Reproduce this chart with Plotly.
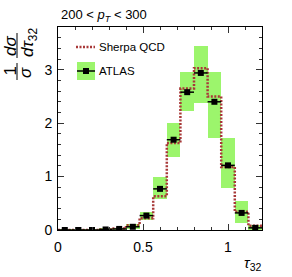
import plotly.graph_objects as go

# ---- data ----
bin_edges = [0.0, 0.08, 0.16, 0.24, 0.32, 0.40, 0.48, 0.56, 0.64, 0.72, 0.80, 0.88, 0.96, 1.04, 1.12, 1.20]
bin_centers = [0.04, 0.12, 0.20, 0.28, 0.36, 0.44, 0.52, 0.60, 0.68, 0.76, 0.84, 0.92, 1.00, 1.08, 1.16]
atlas_values = [0.0, 0.0, 0.0, 0.01, 0.02, 0.06, 0.27, 0.77, 1.69, 2.58, 2.94, 2.40, 1.21, 0.32, 0.04]
band_low = [0.0, 0.0, 0.0, 0.0, 0.01, 0.02, 0.19, 0.58, 1.375, 2.22, 2.38, 1.73, 0.79, 0.13, 0.0]
band_high = [0.01, 0.01, 0.01, 0.02, 0.04, 0.11, 0.34, 0.99, 2.01, 2.95, 3.45, 2.96, 1.72, 0.54, 0.09]
sherpa_values = [0.0, 0.0, 0.0, 0.01, 0.03, 0.09, 0.22, 0.63, 1.63, 2.65, 3.03, 2.50, 1.18, 0.34, 0.08]
half_width = [0.04] * len(bin_centers)

GREEN = "#9cf56c"
RED = "#a83838"
FONT = "Liberation Sans, Arial, sans-serif"

# plot area pixel geometry
L, R, T, B = 58, 262, 27, 230
def px(x):
    return (x - L) / (R - L)
def py(y):
    return (B - y) / (B - T)

fig = go.Figure()

fig.add_trace(go.Bar(
    x=bin_centers, y=[h - l for h, l in zip(band_high, band_low)], base=band_low,
    width=0.08, marker=dict(color=GREEN, line=dict(width=0)), showlegend=False,
))

fig.add_trace(go.Scatter(
    x=bin_edges, y=sherpa_values + [sherpa_values[-1]], mode="lines", line_shape="hv",
    line=dict(color=RED, width=2.5, dash="2px,1.5px"), showlegend=False,
))

fig.add_trace(go.Scatter(
    x=bin_centers, y=atlas_values, mode="markers",
    marker=dict(symbol="square", size=6, color="black"),
    error_x=dict(type="data", array=half_width, color="black", thickness=1.5, width=0),
    showlegend=False,
))

axis_common = dict(
    showline=True, linecolor="black", linewidth=1, mirror="ticks",
    ticks="inside", ticklen=6, tickcolor="#333", tickwidth=1,
    showgrid=False, zeroline=False,
    tickfont=dict(family=FONT, size=14, color="black"),
)

fig.update_layout(
    width=292, height=277, autosize=False,
    margin=dict(l=L, r=292 - R, t=T, b=277 - B),
    plot_bgcolor="white", paper_bgcolor="white",
    bargap=0,
    xaxis=dict(range=[0, 1.2], tickvals=[0, 0.5, 1], ticktext=["0", "0.5", "1"],
               minor=dict(dtick=0.1, tick0=0, ticklen=3, ticks="inside", tickcolor="#333"),
               ticklabelstandoff=4, **axis_common),
    yaxis=dict(range=[0, 3.8], tickvals=[0, 1, 2, 3],
               minor=dict(dtick=0.2, tick0=0, ticklen=3, ticks="inside", tickcolor="#333"),
               ticklabelstandoff=2, **axis_common),
)

ann = []
# title
ann.append(dict(x=px(104), y=py(15), xref="paper", yref="paper", showarrow=False,
                text="200 < <i>p</i><sub><i>T</i></sub> < 300", font=dict(family=FONT, size=13, color="black"),
                xanchor="center", yanchor="middle"))
# x axis title
ann.append(dict(x=px(252), y=py(263), xref="paper", yref="paper", showarrow=False,
                text="<i>τ</i><sub>32</sub>", font=dict(family=FONT, size=15, color="black"),
                xanchor="center", yanchor="middle"))
# y axis title as two rotated fractions
for txt, cx, cy in [("1", 10, 71.5), ("<i>σ</i>", 26, 73), ("<i>dσ</i>", 10, 46), ("<i>dτ</i><sub>32</sub>", 29, 43)]:
    ann.append(dict(x=px(cx), y=py(cy), xref="paper", yref="paper", showarrow=False, textangle=-90,
                    text=txt, font=dict(family=FONT, size=17, color="black"),
                    xanchor="center", yanchor="middle"))
# legend texts
ann.append(dict(x=px(97), y=py(47), xref="paper", yref="paper", showarrow=False, text="Sherpa QCD",
                font=dict(family=FONT, size=11.5, color="black"), xanchor="left", yanchor="middle"))
ann.append(dict(x=px(97), y=py(71), xref="paper", yref="paper", showarrow=False, text="ATLAS",
                font=dict(family=FONT, size=11.5, color="black"), xanchor="left", yanchor="middle"))

shapes = [
    # fraction bars
    dict(type="line", xref="paper", yref="paper", x0=px(17), x1=px(17), y0=py(63), y1=py(80),
         line=dict(color="black", width=1)),
    dict(type="line", xref="paper", yref="paper", x0=px(17), x1=px(17), y0=py(33), y1=py(58),
         line=dict(color="black", width=1)),
    # legend: sherpa
    dict(type="line", xref="paper", yref="paper", x0=px(76), x1=px(95), y0=py(47), y1=py(47),
         line=dict(color=RED, width=2.5, dash="2px,1.5px")),
    # legend: ATLAS
    dict(type="rect", xref="paper", yref="paper", x0=px(77), x1=px(95), y0=py(80), y1=py(62),
         fillcolor=GREEN, line=dict(width=0)),
    dict(type="line", xref="paper", yref="paper", x0=px(77), x1=px(95), y0=py(71), y1=py(71),
         line=dict(color="black", width=1.5)),
    dict(type="rect", xref="paper", yref="paper", x0=px(83), x1=px(89), y0=py(74), y1=py(68),
         fillcolor="black", line=dict(width=0)),
]

fig.update_layout(annotations=ann, shapes=shapes)
fig.write_html("out.html", config={"displayModeBar": False},
               post_script="document.body.style.margin='0';document.body.style.padding='0';")
